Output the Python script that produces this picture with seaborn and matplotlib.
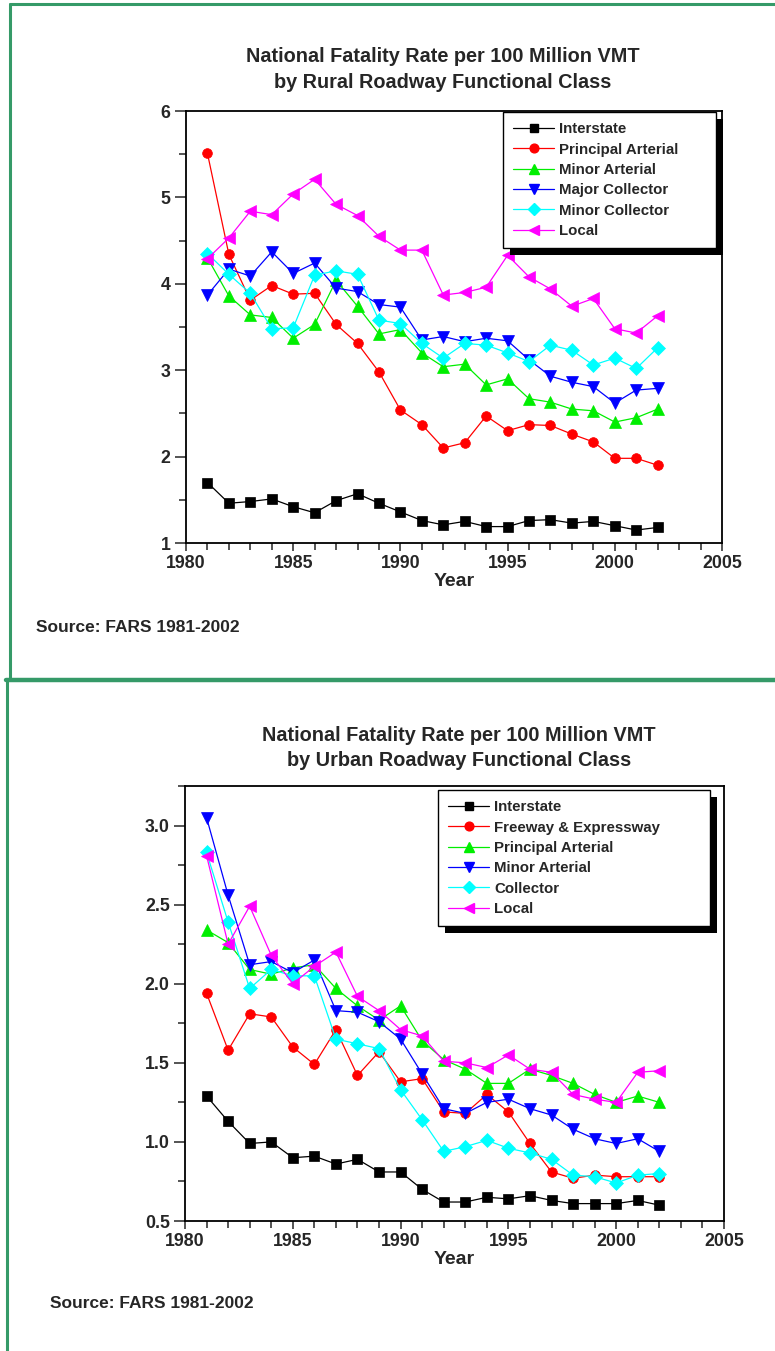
import pandas as pd
import matplotlib.pyplot as plt
import seaborn as sns
from matplotlib.lines import Line2D
from matplotlib.patches import Rectangle
from matplotlib.ticker import MultipleLocator

years = list(range(1981, 2003))

# Rural roadway classes
rural_interstate = [1.70, 1.46, 1.48, 1.51, 1.42, 1.35, 1.49, 1.57, 1.46, 1.36, 1.26,
                    1.21, 1.25, 1.19, 1.19, 1.26, 1.27, 1.23, 1.25, 1.20, 1.15, 1.18]
rural_principal = [5.51, 4.34, 3.81, 3.98, 3.88, 3.89, 3.53, 3.31, 2.98, 2.54, 2.37,
                   2.10, 2.16, 2.47, 2.30, 2.37, 2.36, 2.26, 2.17, 1.98, 1.98, 1.90]
rural_minor_art = [4.30, 3.86, 3.64, 3.61, 3.37, 3.53, 4.04, 3.74, 3.42, 3.47, 3.20,
                   3.04, 3.07, 2.83, 2.90, 2.67, 2.63, 2.55, 2.53, 2.40, 2.45, 2.55]
rural_major_col = [3.87, 4.17, 4.09, 4.37, 4.12, 4.24, 3.95, 3.91, 3.76, 3.73, 3.35,
                   3.39, 3.33, 3.37, 3.34, 3.12, 2.93, 2.86, 2.81, 2.62, 2.77, 2.79]
rural_minor_col = [4.35, 4.11, 3.89, 3.48, 3.49, 4.10, 4.15, 4.11, 3.58, 3.54, 3.31,
                   3.14, 3.31, 3.29, 3.20, 3.10, 3.29, 3.23, 3.06, 3.14, 3.02, 3.26]
rural_local = [4.29, 4.53, 4.84, 4.80, 5.04, 5.21, 4.92, 4.79, 4.55, 4.39, 4.39,
               3.87, 3.90, 3.96, 4.33, 4.08, 3.94, 3.74, 3.83, 3.48, 3.43, 3.63]

# Urban roadway classes
urban_interstate = [1.29, 1.13, 0.99, 1.00, 0.90, 0.91, 0.86, 0.89, 0.81, 0.81, 0.70,
                    0.62, 0.62, 0.65, 0.64, 0.66, 0.63, 0.61, 0.61, 0.61, 0.63, 0.60]
urban_freeway = [1.94, 1.58, 1.81, 1.79, 1.60, 1.49, 1.71, 1.42, 1.57, 1.38, 1.40,
                 1.19, 1.18, 1.30, 1.19, 0.99, 0.81, 0.77, 0.79, 0.78, 0.78, 0.78]
urban_principal = [2.34, 2.26, 2.09, 2.06, 2.10, 2.12, 1.97, 1.86, 1.77, 1.86, 1.64,
                   1.52, 1.46, 1.37, 1.37, 1.46, 1.42, 1.37, 1.30, 1.25, 1.29, 1.25]
urban_minor_art = [3.05, 2.56, 2.12, 2.14, 2.07, 2.15, 1.83, 1.82, 1.76, 1.65, 1.43,
                   1.21, 1.18, 1.25, 1.27, 1.21, 1.17, 1.08, 1.02, 0.99, 1.02, 0.94]
urban_collector = [2.83, 2.39, 1.97, 2.09, 2.05, 2.05, 1.65, 1.62, 1.59, 1.33, 1.14,
                   0.94, 0.97, 1.01, 0.96, 0.93, 0.89, 0.79, 0.78, 0.74, 0.79, 0.80]
urban_local = [2.81, 2.25, 2.49, 2.18, 2.00, 2.11, 2.20, 1.92, 1.83, 1.71, 1.67,
               1.51, 1.50, 1.47, 1.55, 1.46, 1.44, 1.30, 1.27, 1.25, 1.44, 1.45]

rural_names = ['Interstate', 'Principal Arterial', 'Minor Arterial',
               'Major Collector', 'Minor Collector', 'Local']
urban_names = ['Interstate', 'Freeway & Expressway', 'Principal Arterial',
               'Minor Arterial', 'Collector', 'Local']

colors = ['#000000', '#ff0000', '#00ee00', '#0000ff', '#00ffff', '#ff00ff']
markers = ['s', 'o', '^', 'v', 'D', '<']
msizes = [6.5, 7, 8, 8, 7, 8]

rural = pd.DataFrame(dict(zip(rural_names, [rural_interstate, rural_principal, rural_minor_art,
                                            rural_major_col, rural_minor_col, rural_local])))
rural['Year'] = years
urban = pd.DataFrame(dict(zip(urban_names, [urban_interstate, urban_freeway, urban_principal,
                                            urban_minor_art, urban_collector, urban_local])))
urban['Year'] = years

sns.set_style('white')
plt.rcParams['font.family'] = ['Liberation Sans', 'DejaVu Sans']
plt.rcParams['font.weight'] = 'bold'

fig = plt.figure(figsize=(7.75, 13.51), dpi=100)
W, H = 775, 1351


def fx(px):
    return px / W


def fy(py):
    return 1 - py / H


def draw_panel(ax, df, names, ylim, ymajor, yminor, legend_box):
    long = df.melt(id_vars='Year', var_name='Class', value_name='Rate')
    for name, c, m, s in zip(names, colors, markers, msizes):
        sns.lineplot(data=long[long['Class'] == name], x='Year', y='Rate', ax=ax,
                     color=c, marker=m, markersize=s, markeredgecolor=c,
                     markeredgewidth=0.5, linewidth=0.9, label=name)
    ax.set_facecolor('none')
    ax.set_xlim(1980, 2005)
    ax.set_ylim(*ylim)
    ax.xaxis.set_major_locator(MultipleLocator(5))
    ax.xaxis.set_minor_locator(MultipleLocator(1))
    ax.yaxis.set_major_locator(MultipleLocator(ymajor))
    ax.yaxis.set_minor_locator(MultipleLocator(yminor))
    ax.tick_params(axis='x', which='major', direction='out', length=6, width=1.1,
                   labelsize=12.8, pad=3, bottom=True, top=False)
    ax.tick_params(axis='x', which='minor', direction='out', length=5, width=1.1,
                   bottom=True, top=False)
    ax.tick_params(axis='y', which='major', direction='out', length=8, width=1.1,
                   labelsize=12.8, pad=3, left=True, right=False)
    ax.tick_params(axis='y', which='minor', direction='out', length=5, width=1.1,
                   left=True, right=False)
    for lab in ax.get_xticklabels() + ax.get_yticklabels():
        lab.set_fontweight('bold')
    for sp in ax.spines.values():
        sp.set_visible(True)
        sp.set_color('black')
        sp.set_linewidth(1.3)
    ax.set_xlabel('Year', fontsize=14, fontweight='bold', labelpad=0)
    ax.set_ylabel('')
    handles = [Line2D([], [], color=c, marker=m, markersize=s * 0.9, markeredgecolor=c,
                      linewidth=0.9) for c, m, s in zip(colors, markers, msizes)]
    leg = ax.legend(handles, names, loc='upper left', bbox_to_anchor=legend_box,
                    mode='expand', borderaxespad=0, frameon=True, fancybox=False,
                    edgecolor='black', framealpha=1,
                    prop={'weight': 'bold', 'size': 10.8},
                    handlelength=2.7, handletextpad=0.35, labelspacing=0.42,
                    borderpad=0.7)
    leg.get_frame().set_linewidth(1.0)
    return leg


# Rural panel
ax1 = fig.add_axes([fx(186), fy(543), fx(722) - fx(186), fy(111) - fy(543)])
leg1 = draw_panel(ax1, rural, rural_names, (1, 6), 1, 0.5, (0.591, 0.697, 0.398, 0.301))
fig.text(fx(443), fy(57), 'National Fatality Rate per 100 Million VMT', ha='center',
         va='center', fontsize=14.3, fontweight='bold')
fig.text(fx(443), fy(82), 'by Rural Roadway Functional Class', ha='center',
         va='center', fontsize=14.3, fontweight='bold')
fig.text(fx(36), fy(628), 'Source: FARS 1981-2002', ha='left', va='center',
         fontsize=12.5, fontweight='bold')

# Urban panel
ax2 = fig.add_axes([fx(185), fy(1221), fx(724) - fx(185), fy(786) - fy(1221)])
leg2 = draw_panel(ax2, urban, urban_names, (0.5, 3.25), 0.5, 0.25, (0.469, 0.69, 0.505, 0.301))
fig.text(fx(459), fy(735), 'National Fatality Rate per 100 Million VMT', ha='center',
         va='center', fontsize=14.3, fontweight='bold')
fig.text(fx(459), fy(760), 'by Urban Roadway Functional Class', ha='center',
         va='center', fontsize=14.3, fontweight='bold')
fig.text(fx(50), fy(1304), 'Source: FARS 1981-2002', ha='left', va='center',
         fontsize=12.5, fontweight='bold')

# green page borders
green = '#359a68'
border_kw = dict(color=green, linewidth=2.2, transform=fig.transFigure)
fig.add_artist(Line2D([fx(10), fx(10)], [fy(4), fy(679)], **border_kw))
fig.add_artist(Line2D([fx(10), 1], [fy(4), fy(4)], **border_kw))
fig.add_artist(Line2D([fx(6), 1], [fy(680), fy(680)], linewidth=3.2, color=green,
                      transform=fig.transFigure))
fig.add_artist(Line2D([fx(7), fx(7)], [fy(680), 0], **border_kw))

# solid drop shadows behind the legends
fig.canvas.draw()
inv = fig.transFigure.inverted()
for ax, leg in [(ax1, leg1), (ax2, leg2)]:
    bb = leg.get_frame().get_window_extent().transformed(inv)
    ax.add_patch(Rectangle((bb.x0 + fx(7), bb.y0 - 7 / H), bb.width, bb.height,
                           transform=fig.transFigure, facecolor='black', edgecolor='none',
                           zorder=4.9, clip_on=False))

fig.savefig('out.png', dpi=100)
